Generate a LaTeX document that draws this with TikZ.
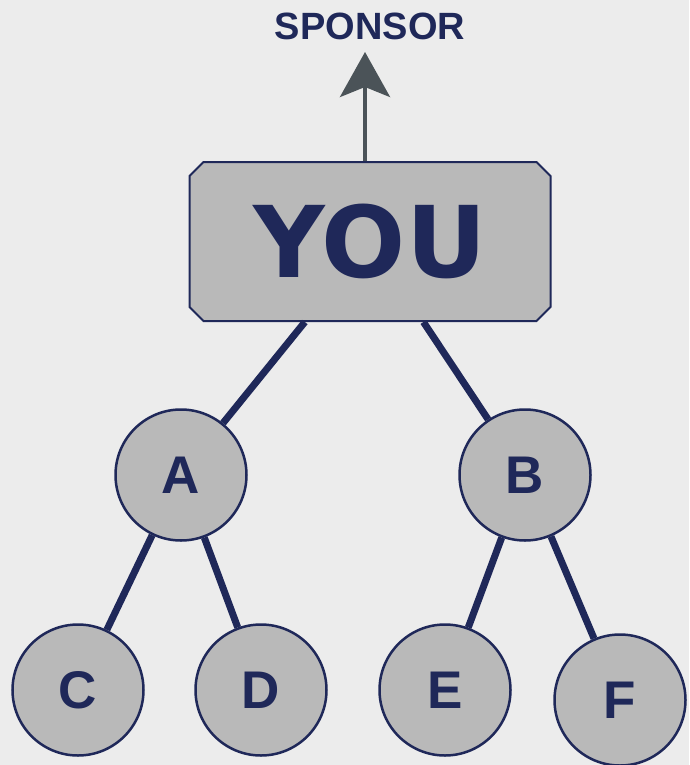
\documentclass[tikz,border=0pt]{standalone}
\usepackage{fontspec}
\setmainfont{Liberation Sans}
\newfontfamily\youfont{DejaVu Sans}
\usetikzlibrary{arrows.meta,shapes.misc}
\definecolor{navy}{HTML}{1F2859}
\definecolor{nodegray}{HTML}{B9B9B9}
\definecolor{bggray}{HTML}{ECECEC}
\definecolor{arrowgray}{HTML}{4B5358}
\begin{document}
\begin{tikzpicture}[x=1pt,y=1pt]
\tikzstyle{every node}+=[inner sep=0pt]
\tikzstyle{member}=[circle,draw=navy,fill=nodegray,line width=2.5pt,minimum size=131pt,text=navy,font=\fontsize{53}{53}\selectfont\bfseries]
\tikzstyle{link}=[navy,line width=7pt]
\fill [bggray] (0,0) rectangle (689,-765);
\useasboundingbox (0,0) rectangle (689,-765);
\node (sponsor) at (370,-26) [text=navy,font=\fontsize{38}{38}\selectfont\bfseries] {SPONSOR};
\coordinate (tip) at (365,-52);
\node [chamfered rectangle,chamfered rectangle xsep=7pt,chamfered rectangle ysep=7pt,draw=navy,fill=nodegray,line width=2pt,minimum width=361pt,minimum height=159pt,text=navy,font=\youfont\fontsize{99}{99}\selectfont\bfseries] (you) at (370,-241.5) {YOU};
\node [member] (A) at (181,-475) {A};
\node [member] (B) at (525,-475) {B};
\node [member] (C) at (78,-690) {C};
\node [member] (D) at (261,-690) {D};
\node [member] (E) at (445,-690) {E};
\node [member] (F) at (620,-700) {F};
\draw [arrowgray,line width=4pt,-{Stealth[length=45pt,width=50pt,inset=10pt]}] (you.north -| tip) -- (tip);
\draw [link] (you) -- (A);
\draw [link] (you) -- (B);
\draw [link] (A) -- (C);
\draw [link] (A) -- (D);
\draw [link] (B) -- (E);
\draw [link] (B) -- (F);
\end{tikzpicture}
\end{document}
